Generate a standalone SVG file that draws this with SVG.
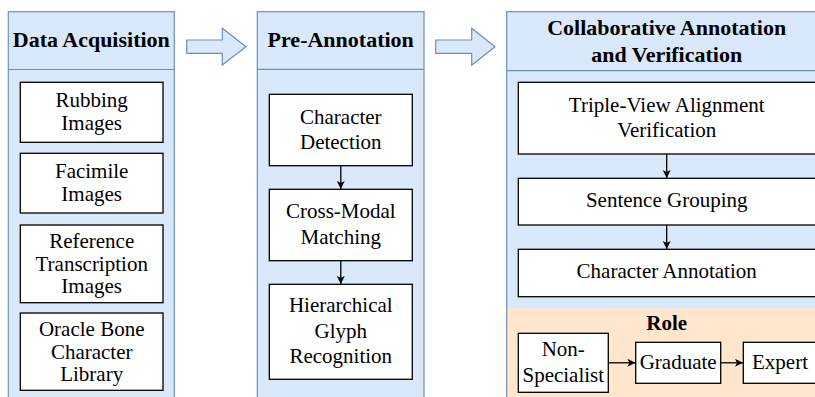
<svg xmlns="http://www.w3.org/2000/svg" width="815" height="397" viewBox="0 0 815 397">
<style>
.col{fill:#dae8fc;stroke:#6c8ebf;stroke-width:1.2}
.hl{stroke:#6c8ebf;stroke-width:1.2;fill:none}
.box{fill:#fff;stroke:#000;stroke-width:1.3}
.blk{fill:#dae8fc;stroke:#6c8ebf;stroke-width:1.2}
.con{stroke:#000;stroke-width:1.3;fill:none;marker-end:url(#ah)}
</style>
<defs>
<marker id="ah" markerWidth="10" markerHeight="10" refX="8" refY="4" orient="auto" markerUnits="userSpaceOnUse">
<path d="M0,0 L8,4 L0,8 L2,4 Z" fill="#000"/>
</marker>
</defs>
<g id="stage-data-acquisition">
<rect class="col" x="8.3" y="11.7" width="166" height="400"/>
<line class="hl" x1="8.3" y1="69.5" x2="174.3" y2="69.5"/>
<text x="91.3" y="47" font-family="Times New Roman" font-size="22" font-weight="bold" text-anchor="middle">Data Acquisition</text>
</g>
<g id="rubbing-images">
<rect class="box" x="20.3" y="82.3" width="142.7" height="60"/>
<text x="91.7" y="107" font-family="Times New Roman" font-size="21" text-anchor="middle">Rubbing</text>
<text x="91.7" y="130" font-family="Times New Roman" font-size="21" text-anchor="middle">Images</text>
</g>
<g id="facimile-images">
<rect class="box" x="20.3" y="153.3" width="142.7" height="59.7"/>
<text x="91.7" y="177.5" font-family="Times New Roman" font-size="21" text-anchor="middle">Facimile</text>
<text x="91.7" y="200.5" font-family="Times New Roman" font-size="21" text-anchor="middle">Images</text>
</g>
<g id="reference-transcription-images">
<rect class="box" x="20.3" y="225" width="142.7" height="77.7"/>
<text x="91.7" y="247.5" font-family="Times New Roman" font-size="21" text-anchor="middle">Reference</text>
<text x="91.7" y="270.5" font-family="Times New Roman" font-size="21" text-anchor="middle">Transcription</text>
<text x="91.7" y="292.5" font-family="Times New Roman" font-size="21" text-anchor="middle">Images</text>
</g>
<g id="oracle-bone-library">
<rect class="box" x="20.3" y="313" width="142.7" height="77.3"/>
<text x="91.7" y="335.5" font-family="Times New Roman" font-size="21" text-anchor="middle">Oracle Bone</text>
<text x="91.7" y="358.5" font-family="Times New Roman" font-size="21" text-anchor="middle">Character</text>
<text x="91.7" y="381" font-family="Times New Roman" font-size="21" text-anchor="middle">Library</text>
</g>
<g id="flow-arrow-1">
<path class="blk" d="M186.7,40 L222.3,40 L222.3,28.3 L246,46.7 L222.3,65 L222.3,53.3 L186.7,53.3 Z"/>
</g>
<g id="stage-pre-annotation">
<rect class="col" x="257.3" y="11.7" width="166.7" height="400"/>
<line class="hl" x1="257.3" y1="69.3" x2="424" y2="69.3"/>
<text x="340.7" y="47" font-family="Times New Roman" font-size="22" font-weight="bold" text-anchor="middle">Pre-Annotation</text>
</g>
<g id="character-detection">
<rect class="box" x="269.3" y="94.3" width="143" height="71.4"/>
<text x="340.8" y="124" font-family="Times New Roman" font-size="21" text-anchor="middle">Character</text>
<text x="340.8" y="149.3" font-family="Times New Roman" font-size="21" text-anchor="middle">Detection</text>
</g>
<g id="cross-modal-matching">
<rect class="box" x="269.3" y="189.3" width="143" height="71.4"/>
<text x="340.8" y="218.3" font-family="Times New Roman" font-size="21" text-anchor="middle">Cross-Modal</text>
<text x="340.8" y="244" font-family="Times New Roman" font-size="21" text-anchor="middle">Matching</text>
</g>
<g id="hierarchical-glyph-recognition">
<rect class="box" x="269.3" y="284.3" width="143" height="95"/>
<text x="340.8" y="312.3" font-family="Times New Roman" font-size="21" text-anchor="middle">Hierarchical</text>
<text x="340.8" y="337.7" font-family="Times New Roman" font-size="21" text-anchor="middle">Glyph</text>
<text x="340.8" y="363.3" font-family="Times New Roman" font-size="21" text-anchor="middle">Recognition</text>
</g>
<g id="flow-arrow-2">
<path class="blk" d="M435.7,40 L471.7,40 L471.7,28.3 L495,46.7 L471.7,65.3 L471.7,53.3 L435.7,53.3 Z"/>
</g>
<g id="stage-collaborative">
<rect x="506.7" y="11.7" width="330" height="400" fill="#dae8fc"/>
<rect x="507.3" y="308.3" width="330" height="100" fill="#ffe6cc"/>
<rect x="506.7" y="11.7" width="330" height="400" fill="none" stroke="#6c8ebf" stroke-width="1.2"/>
<line class="hl" x1="506.7" y1="70.7" x2="836.7" y2="70.7"/>
<text x="666.7" y="35" font-family="Times New Roman" font-size="22" font-weight="bold" text-anchor="middle">Collaborative Annotation</text>
<text x="666.7" y="61.7" font-family="Times New Roman" font-size="22" font-weight="bold" text-anchor="middle">and Verification</text>
</g>
<g id="triple-view-alignment">
<rect class="box" x="518.3" y="82.3" width="300" height="71.7"/>
<text x="666.7" y="111.7" font-family="Times New Roman" font-size="21" text-anchor="middle">Triple-View Alignment</text>
<text x="666.7" y="137.3" font-family="Times New Roman" font-size="21" text-anchor="middle">Verification</text>
</g>
<g id="sentence-grouping">
<rect class="box" x="518.3" y="178.3" width="300" height="46.7"/>
<text x="666.7" y="207.3" font-family="Times New Roman" font-size="21" text-anchor="middle">Sentence Grouping</text>
</g>
<g id="character-annotation">
<rect class="box" x="518.3" y="249.3" width="300" height="47.4"/>
<text x="666.7" y="278.3" font-family="Times New Roman" font-size="21" text-anchor="middle">Character Annotation</text>
</g>
<g id="role">
<text x="666.7" y="329.5" font-family="Times New Roman" font-size="21" font-weight="bold" text-anchor="middle">Role</text>
</g>
<g id="non-specialist">
<rect class="box" x="518.3" y="333.3" width="90" height="59"/>
<text x="563.3" y="356" font-family="Times New Roman" font-size="21" text-anchor="middle">Non-</text>
<text x="563.3" y="381.7" font-family="Times New Roman" font-size="21" text-anchor="middle">Specialist</text>
</g>
<g id="graduate">
<rect class="box" x="635.7" y="342.3" width="85" height="41"/>
<text x="678.2" y="368.5" font-family="Times New Roman" font-size="21" text-anchor="middle">Graduate</text>
</g>
<g id="expert">
<rect class="box" x="743.3" y="342.3" width="75" height="41"/>
<text x="780" y="368.5" font-family="Times New Roman" font-size="21" text-anchor="middle">Expert</text>
</g>
<g id="connectors">
<line class="con" x1="340.8" y1="165.7" x2="340.8" y2="189"/>
<line class="con" x1="340.8" y1="260.7" x2="340.8" y2="284"/>
<line class="con" x1="666.7" y1="154" x2="666.7" y2="178"/>
<line class="con" x1="666.7" y1="225" x2="666.7" y2="249"/>
<line class="con" x1="608.3" y1="362.8" x2="635.4" y2="362.8"/>
<line class="con" x1="720.7" y1="362.8" x2="743" y2="362.8"/>
</g>
</svg>
